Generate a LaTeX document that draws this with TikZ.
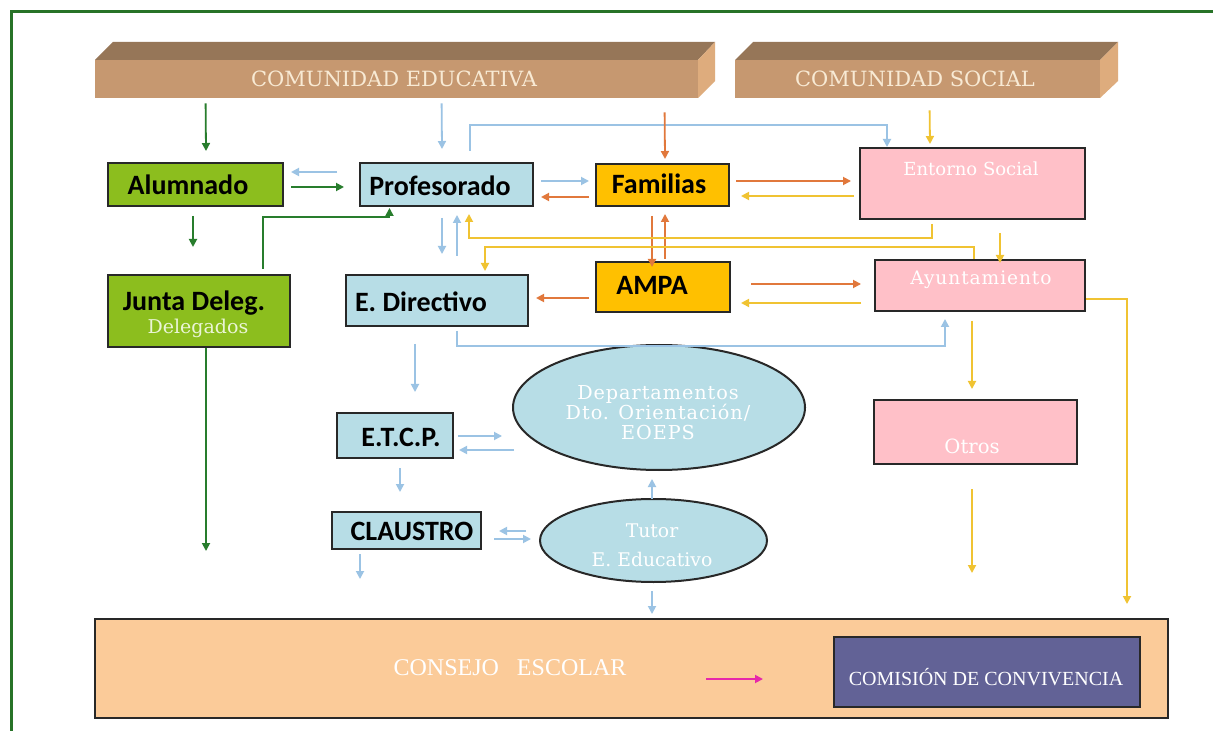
\documentclass[tikz,border=0pt]{standalone}
\usepackage{fontspec}
\setmainfont{DejaVu Serif}
\newfontfamily\calib{Carlito}
\newfontfamily\lserif{Liberation Serif}
\newfontfamily\wserif[LetterSpace=5]{DejaVu Serif}
\usetikzlibrary{calc,arrows.meta,shapes.geometric}
\definecolor{frameg}{RGB}{40,115,40}
\definecolor{barfront}{RGB}{198,152,112}
\definecolor{bartop}{RGB}{150,118,88}
\definecolor{barside}{RGB}{222,172,125}
\definecolor{bartext}{RGB}{248,234,212}
\definecolor{boxgreen}{RGB}{140,190,30}
\definecolor{boxblue}{RGB}{183,221,230}
\definecolor{boxgold}{RGB}{255,192,0}
\definecolor{boxpink}{RGB}{255,192,200}
\definecolor{boxpeach}{RGB}{251,203,153}
\definecolor{boxpurple}{RGB}{98,98,150}
\definecolor{bord}{RGB}{40,40,40}
\definecolor{cgreen}{RGB}{40,125,45}
\definecolor{cblue}{RGB}{155,195,228}
\definecolor{corange}{RGB}{225,120,60}
\definecolor{cyellow}{RGB}{240,195,50}
\definecolor{cpink}{RGB}{230,40,170}
\definecolor{ghost}{RGB}{235,245,215}
\tikzset{
  box/.style={draw=bord, line width=1pt, inner sep=0pt},
  bartxt/.style={text=bartext, font=\fontsize{10.5}{12}\selectfont},
  lbl/.style={font=\calib\bfseries\fontsize{14}{16}\selectfont, text=black, inner sep=0pt},
  wlbl/.style={text=white, inner sep=0pt, align=center},
  con/.style={line width=0.9pt, -{Triangle[length=4pt,width=4pt]}},
  gcon/.style={con, draw=cgreen},
  bcon/.style={con, draw=cblue},
  ocon/.style={con, draw=corange},
  ycon/.style={con, draw=cyellow},
  pcon/.style={con, draw=cpink},
}
\begin{document}
\begin{tikzpicture}[x=0.5pt,y=-0.5pt]
\useasboundingbox (0,0) rectangle (1213,731);
\fill[white] (0,0) rectangle (1213,731);
% frame
\draw[frameg, line width=1.5pt] (11.5,731) -- (11.5,11.5) -- (1213,11.5);

% top bars
\fill[bartop] (95,60) -- (113,42) -- (715,42) -- (698,60) -- cycle;
\fill[barside] (698,60) -- (715,42) -- (715,81) -- (698,98) -- cycle;
\node[fill=barfront, inner sep=0pt, minimum width=301.5pt, minimum height=19pt] (cedu) at (396.5,79) {};
\node[bartxt] (ceduT) at (394,79) {COMUNIDAD EDUCATIVA};
\fill[bartop] (735,60) -- (753,42) -- (1118,42) -- (1100,60) -- cycle;
\fill[barside] (1100,60) -- (1118,42) -- (1118,81) -- (1100,98) -- cycle;
\node[fill=barfront, inner sep=0pt, minimum width=182.5pt, minimum height=19pt] (csoc) at (917.5,79) {};
\node[bartxt] (csocT) at (915,79) {COMUNIDAD SOCIAL};

% boxes
\node[box, fill=boxgreen, minimum width=87.5pt, minimum height=21.5pt] (alum) at (195.5,184.5) {};
\node[box, fill=boxblue, minimum width=86.5pt, minimum height=21.5pt] (prof) at (446.5,184.5) {};
\node[box, fill=boxgold, minimum width=66.5pt, minimum height=21pt] (fam) at (662.5,185) {};
\node[box, fill=boxpink, minimum width=112.5pt, minimum height=35.5pt] (ent) at (972.5,183.5) {};
\node[box, fill=boxgreen, minimum width=91pt, minimum height=36pt] (junta) at (199,311) {};
\node[box, fill=boxblue, minimum width=91pt, minimum height=25.5pt] (edir) at (437,300.5) {};
\node[box, fill=boxgold, minimum width=67pt, minimum height=25pt] (ampa) at (663,287) {};
\node[box, fill=boxpink, minimum width=105pt, minimum height=25.5pt] (ayun) at (980,285.5) {};
\node[ellipse, box, fill=boxblue, minimum width=146pt, minimum height=62.5pt] (dept) at (659,407.5) {};
\node[box, fill=boxblue, minimum width=58pt, minimum height=22.5pt] (etcp) at (395,435.5) {};
\node[box, fill=boxblue, minimum width=74.5pt, minimum height=18.5pt] (claus) at (406.5,530.5) {};
\node[ellipse, box, fill=boxblue, minimum width=113.5pt, minimum height=41.5pt] (tutor) at (653.5,540.5) {};
\node[box, fill=boxpink, minimum width=101.5pt, minimum height=32pt] (otros) at (975.5,432) {};
\node[box, fill=boxpeach, minimum width=536.5pt, minimum height=49.5pt] (consejo) at (631.5,668.5) {};
\node[box, fill=boxpurple, minimum width=153pt, minimum height=35pt] (comision) at (987,672) {};

% labels
\node[lbl] (alumT) at (188,185) {Alumnado};
\node[lbl] (profT) at (440,186) {Profesorado};
\node[lbl] (famT) at (659,184) {Familias};
\node[lbl] (juntaT) at (194,303) {Junta Deleg.};
\node[wlbl, text=ghost, font=\fontsize{9.5}{11}\selectfont] (juntaG) at (198,328) {Delegados};
\node[lbl] (edirT) at (421,302) {E. Directivo};
\node[lbl] (ampaT) at (652,285) {AMPA};
\node[lbl] (etcpT) at (401,437) {E.T.C.P.};
\node[lbl] (clausT) at (412,531) {CLAUSTRO};
\node[wlbl, font=\fontsize{9}{10}\selectfont] (entT) at (971,169) {Entorno Social};
\node[wlbl, font=\wserif\fontsize{9.3}{10}\selectfont] (ayunT) at (981,280) {Ayuntamiento};
\node[wlbl, font=\fontsize{9.8}{10}\selectfont] (otrosT) at (972,446) {Otros};
\node[wlbl, font=\wserif\fontsize{9.6}{10}\selectfont] (deptT) at (658,413) {Departamentos\\Dto. Orientación/\\EOEPS};
\node[wlbl, font=\fontsize{9.4}{14.5}\selectfont] (tutorT) at (652,545) {Tutor\\E. Educativo};
\node[wlbl, font=\lserif\fontsize{12}{14}\selectfont] (consejoT) at (510,668) {CONSEJO\hspace{9pt}ESCOLAR};
\node[wlbl, font=\lserif\fontsize{10}{12}\selectfont] (comisionT) at (986,677) {COMISIÓN DE CONVIVENCIA};

% green connectors
\draw[gcon] ($(cedu.south west)+(111,5)$) -- ($(alum.north)+(10.5,-11)$);
\draw[gcon] ($(alum.south)+(-2.5,9)$) -- ($(junta.north)+(-6,-27)$);
\draw[gcon] ($(alum.east)+(7,2.5)$) -- ($(prof.west)+(-15,2.5)$);
\draw[gcon] ($(junta.north)+(64,-5)$) |- ($(prof.south)+(-57,10)$) -- ($(prof.south)+(-57,1)$);
\draw[gcon] ($(junta.south)+(7,0)$) -- ($(junta.south)+(7,203)$);

% blue connectors
\draw[bcon] ($(cedu.south west)+(347,5)$) -- ($(prof.north)+(-4.5,-13)$);
\draw[bcon] ($(prof.north)+(23.5,-11)$) |- ($(ent.north west)+(28,-22)$) -- ($(ent.north west)+(28,0)$);
\draw[bcon] ($(prof.west)+(-22,-12.5)$) -- ($(alum.east)+(7,-12.5)$);
\draw[bcon] ($(prof.east)+(7,-3.5)$) -- ($(fam.west)+(-6,-4)$);
\draw[bcon] ($(prof.south)+(-4.5,11)$) -- ($(edir.north)+(5,-20)$);
\draw[bcon] ($(edir.north)+(20,-18)$) -- ($(prof.south)+(10.5,8)$);
\draw[bcon] ($(edir.south)+(20,4)$) |- ($(ayun.south)+(-35,34)$) -- ($(ayun.south)+(-35,7)$);
\draw[bcon] ($(edir.south)+(-22,17)$) -- ($(etcp.north)+(20,-20)$);
\draw[bcon] ($(etcp.east)+(4,0.5)$) -- ($(dept.west)+(-10,28.5)$);
\draw[bcon] ($(dept.west)+(2,42.5)$) -- ($(etcp.east)+(5,14.5)$);
\draw[bcon] ($(etcp.south)+(5,9)$) -- ($(claus.north)+(-6.5,-19)$);
\draw[bcon] ($(tutor.west)+(-13,-9.5)$) -- ($(claus.east)+(17,0.5)$);
\draw[bcon] ($(claus.east)+(12,8.5)$) -- ($(tutor.west)+(-8,-1.5)$);
\draw[bcon] ($(claus.south)+(-46.5,4)$) -- ($(claus.south)+(-46.5,29)$);
\draw[bcon] ($(tutor.north)+(-1.5,1)$) -- ($(dept.south)+(-7,8)$);
\draw[bcon] ($(tutor.south)+(-1.5,8)$) -- ($(consejo.north)+(20.5,-4)$);

% orange connectors
\draw[ocon] ($(cedu.south west)+(570,14)$) -- ($(fam.north)+(2.5,-4)$);
\draw[ocon] ($(fam.east)+(6,-4)$) -- ($(ent.west)+(-8,-2.5)$);
\draw[ocon] ($(fam.west)+(-6,12)$) -- ($(prof.east)+(7,12.5)$);
\draw[ocon] ($(fam.south)+(-10.5,9)$) -- ($(ampa.north)+(-11,6)$);
\draw[ocon] ($(ampa.north)+(2,-2)$) -- ($(fam.south)+(2.5,7)$);
\draw[ocon] ($(ampa.west)+(-6,11)$) -- ($(edir.east)+(7,-2.5)$);
\draw[ocon] ($(ampa.east)+(20,-3)$) -- ($(ayun.west)+(-13,-1.5)$);

% yellow connectors
\draw[ycon] ($(csoc.south west)+(195,12)$) -- ($(ent.north)+(-42.5,-3)$);
\draw[ycon] ($(ent.west)+(-5,12.5)$) -- ($(fam.east)+(11,11)$);
\draw[ycon] ($(ent.south)+(-40.5,4)$) |- ($(prof.south)+(22.5,31)$) -- ($(prof.south)+(22.5,7)$);
\draw[ycon] ($(ayun.north)+(-6,0)$) |- ($(edir.north)+(48,-27)$) -- ($(edir.north)+(48,-3)$);
\draw[ycon] ($(ent.south)+(27.5,13)$) -- ($(ayun.north)+(20,4)$);
\draw[ycon] ($(ayun.west)+(-13,17.5)$) -- ($(ampa.east)+(10,16)$);
\draw[ycon] ($(ayun.south)+(-8,9)$) -- ($(otros.north)+(-3.5,-10)$);
\draw[ycon] ($(otros.south)+(-3.5,24)$) -- ($(otros.south)+(-3.5,108)$);
\draw[ycon] ($(ayun.east)+(0,13.5)$) -| ($(consejo.north east)+(-42,-14)$);

% pink arrow
\draw[pcon] ($(comision.west)+(-127,7)$) -- ($(comision.west)+(-70,7)$);
\end{tikzpicture}
\end{document}
